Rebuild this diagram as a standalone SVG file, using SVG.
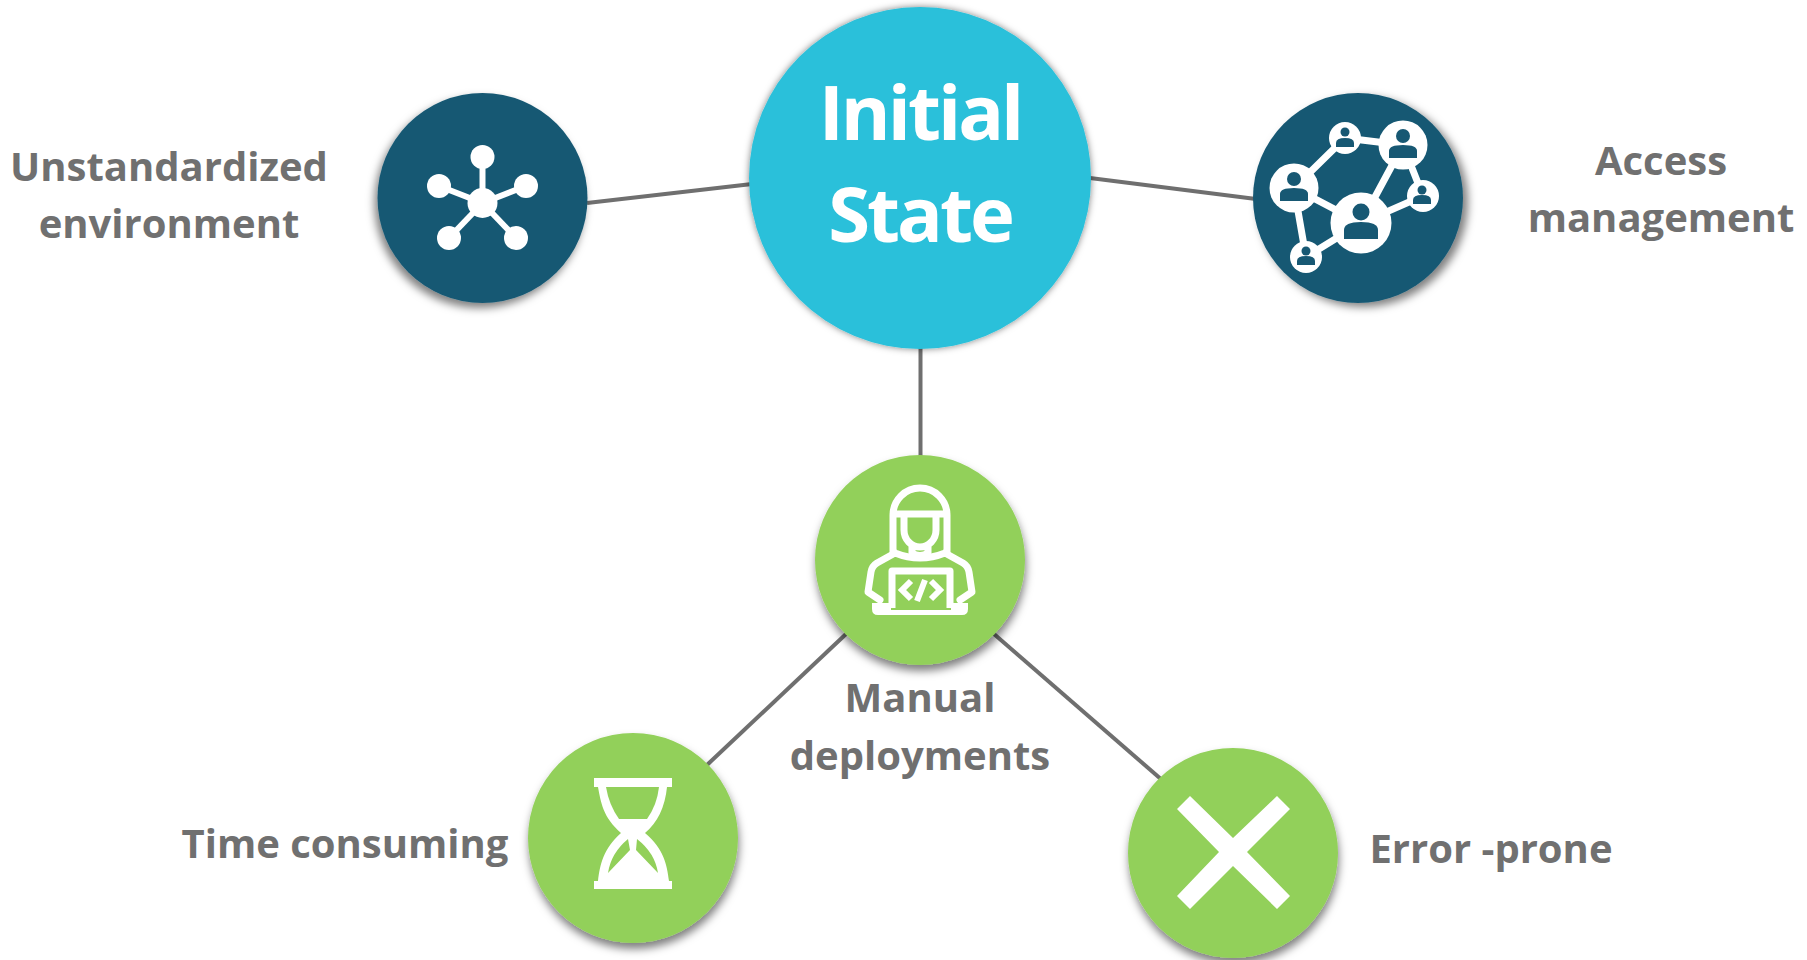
<svg xmlns="http://www.w3.org/2000/svg" width="1807" height="960" viewBox="0 0 1807 960">
<defs>
<filter id="s0" x="-20%" y="-20%" width="140%" height="140%"><feDropShadow dx="0" dy="0" stdDeviation="3.500" flood-color="#000" flood-opacity="0.5"/></filter>
<filter id="sl" x="-20%" y="-20%" width="140%" height="140%"><feDropShadow dx="-3" dy="5" stdDeviation="4" flood-color="#000" flood-opacity="0.5"/></filter>
<filter id="sr" x="-20%" y="-20%" width="140%" height="140%"><feDropShadow dx="5" dy="4" stdDeviation="4" flood-color="#000" flood-opacity="0.5"/></filter>
<filter id="sd" x="-20%" y="-20%" width="140%" height="140%"><feDropShadow dx="1" dy="6" stdDeviation="4" flood-color="#000" flood-opacity="0.5"/></filter>
<style>
.lbl{font-family:"Open Sans","Liberation Sans",sans-serif;font-weight:700;font-size:40px;fill:#707070;text-anchor:middle}
.title{font-family:"Open Sans","Liberation Sans",sans-serif;font-weight:700;font-size:76px;letter-spacing:-3px;fill:#fff;text-anchor:middle}
.dk{fill:#175873}
.gr{fill:#92d05a}
.cn{stroke:#6f6f6f;stroke-width:4;fill:none}
.w{fill:#fff}
.wl{stroke:#fff;fill:none}
.d{fill:#175873}
.g{fill:#92d05a}
</style>
</defs>
<rect width="1807" height="960" fill="#fff"/>
<g id="connectors" class="cn">
<line x1="587" y1="203" x2="752" y2="184"/>
<line x1="1090" y1="178" x2="1256" y2="199"/>
<line x1="920.500" y1="345" x2="920.500" y2="458"/>
<line x1="846" y1="634" x2="707" y2="765"/>
<line x1="994" y1="634" x2="1162" y2="780"/>
</g>
<g id="initial-state">
<circle cx="920" cy="178" r="171" fill="#29c0da" filter="url(#s0)"/>
<text class="title" x="920" y="140">Initial</text>
<text class="title" x="920" y="242">State</text>
</g>
<g id="unstandardized">
<circle class="dk" cx="482.500" cy="198" r="105" filter="url(#sl)"/>
<g class="wl" stroke-width="6"><line x1="482.500" y1="203" x2="482.500" y2="157"/><line x1="482.500" y1="203" x2="439" y2="186"/><line x1="482.500" y1="203" x2="526" y2="186"/><line x1="482.500" y1="203" x2="449" y2="238"/><line x1="482.500" y1="203" x2="516" y2="238"/></g>
<g class="w"><circle cx="482.500" cy="203" r="15"/><circle cx="482.500" cy="157" r="12"/><circle cx="439" cy="186" r="12"/><circle cx="526" cy="186" r="12"/><circle cx="449" cy="238" r="12"/><circle cx="516" cy="238" r="12"/></g>
<text class="lbl" x="169" y="181">Unstandardized</text>
<text class="lbl" x="169" y="238">environment</text>
</g>
<g id="access-management">
<circle class="dk" cx="1358" cy="198" r="105" filter="url(#sr)"/>
<g class="wl" stroke-width="7"><path d="M1294 188L1345 138L1403 145L1361 223L1294 188L1306 257L1361 223L1423 196L1403 145"/></g>
<g class="w"><circle cx="1294" cy="188" r="24.500"/><circle cx="1345" cy="138" r="16"/><circle cx="1403" cy="145" r="24.500"/><circle cx="1423" cy="196" r="16"/><circle cx="1361" cy="223" r="30.500"/><circle cx="1306" cy="257" r="16"/></g>
<g class="d">
<circle cx="1294" cy="179" r="7"/><path d="M1280 201v-7q0-6 14-6t14 6v7z"/>
<circle cx="1345" cy="132" r="4.500"/><path d="M1336 147v-4q0-5 9-5t9 5v4z"/>
<circle cx="1403" cy="136" r="7"/><path d="M1389 158v-7q0-6 14-6t14 6v7z"/>
<circle cx="1422" cy="190" r="4.500"/><path d="M1413 204v-4q0-5 9-5t9 5v4z"/>
<circle cx="1361" cy="212" r="8.500"/><path d="M1344 239v-9q0-8 17-8t17 8v9z"/>
<circle cx="1306" cy="251" r="4.500"/><path d="M1297 265v-4q0-5 9-5t9 5v4z"/>
</g>
<text class="lbl" x="1661" y="175">Access</text>
<text class="lbl" x="1661" y="232">management</text>
</g>
<g id="manual-deployments">
<circle class="gr" cx="920" cy="560" r="105" filter="url(#sd)"/>
<g class="wl" stroke-width="7" stroke-linejoin="round" stroke-linecap="round">
<path d="M893 552v-37a27 27 0 0 1 54 0v37M893 514h54M904 516v14a16 17 0 0 0 32 0v-14M912 545v8q8 5 16 0v-8"/>
<path d="M895 553l-18 10q-5 3-6 9l-3 20 12 8M945 553l18 10q5 3 6 9l3 20-12 8M895 553q25 10 50 0"/>
<path d="M892 608v-37h58v37" stroke-linecap="butt"/>
</g>
<path class="w" d="M872 603h19v7h60v-7h17v6q0 6-6 6h-84q-6 0-6-6z"/>
<g class="wl" stroke-width="6"><path d="M911 581l-9 9 9 9M931 581l9 9-9 9M925 580l-8 21"/></g>
<text class="lbl" x="920" y="712">Manual</text>
<text class="lbl" x="920" y="770">deployments</text>
</g>
<g id="time-consuming">
<circle class="gr" cx="633" cy="838" r="105" filter="url(#sd)"/>
<path class="w" d="M594 778h78v9h-5q-3 30-22 46c19 16 22 32 24 48h3v8h-78v-8h4c2-16 5-32 23-48-18-16-20-30-23-46h-4z"/>
<path class="g" d="M606 787q3 18 13 32h28q10-14 12-32z"/>
<path class="g" d="M608 873q3-20 20-34l2 11zM658 873q-3-20-21-34l-1 11z"/>
<text class="lbl" x="345" y="858">Time consuming</text>
</g>
<g id="error-prone">
<circle class="gr" cx="1233" cy="853" r="105" filter="url(#sd)"/>
<polygon class="w" points="1190,796 1233,838 1277,796 1290,809 1247,852 1290,896 1277,909 1233,866 1190,909 1177,896 1219,852 1177,809"/>
<text class="lbl" x="1491" y="863">Error -prone</text>
</g>
</svg>
